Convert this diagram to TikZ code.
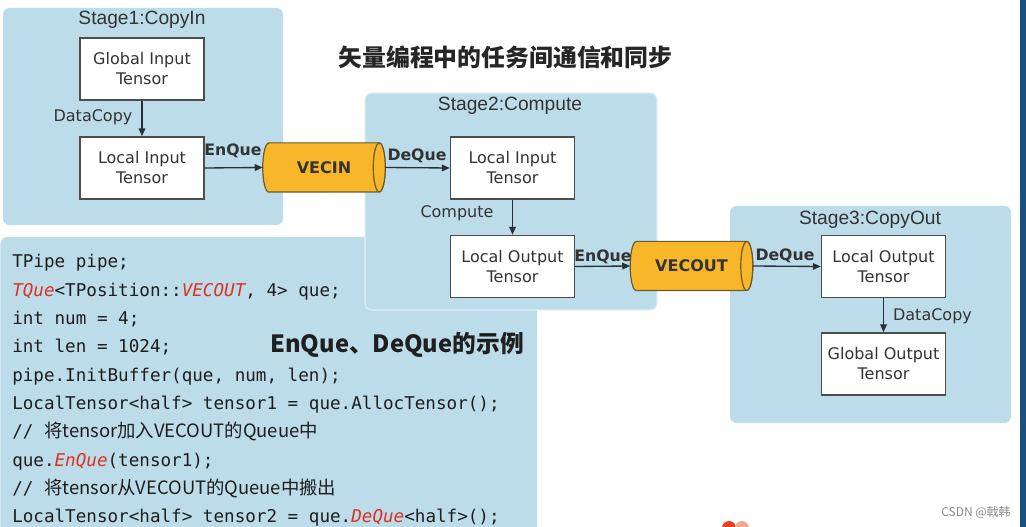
\documentclass[tikz,border=0pt]{standalone}
\usepackage{fontspec}
\setmainfont{DejaVu Sans}
\setmonofont{DejaVu Sans Mono}
\newfontfamily\cjk{Noto Sans CJK SC}
\newfontfamily\arialf{Liberation Sans}
\usetikzlibrary{arrows.meta,calc}
\definecolor{panel}{HTML}{BCDCEA}
\definecolor{boxline}{HTML}{4D4D4D}
\definecolor{txt}{HTML}{333333}
\definecolor{arrowc}{HTML}{263238}
\definecolor{cylfill}{HTML}{F8B62A}
\definecolor{cylline}{HTML}{6B5B2E}
\definecolor{codetext}{HTML}{1E1E1E}
\definecolor{codered}{HTML}{E0301E}
\definecolor{barblue}{HTML}{1B4F7E}
\definecolor{wmark}{HTML}{8C8C8C}
\definecolor{logored}{HTML}{E8401C}
\definecolor{logopink}{HTML}{F7A98A}
\tikzset{
  panelbox/.style={fill=panel, rounded corners=5pt},
  stagetitle/.style={font=\arialf\fontsize{14.4}{17}\selectfont, text=txt, inner sep=0pt},
  tensorbox/.style={draw=boxline, line width=1.1pt, fill=white, minimum width=93pt, minimum height=46.5pt,
    align=center, font=\fontsize{12}{15}\selectfont, text=txt, inner sep=0pt},
  cylnode/.style={minimum width=91.5pt, minimum height=36.5pt, inner sep=0pt,
    font=\bfseries\fontsize{12}{14}\selectfont, text=txt},
  cylbody/.style={fill=cylfill, draw=cylline, line width=0.9pt},
  arr/.style={draw=arrowc, line width=1pt, -{Triangle[length=6pt,width=5pt]}},
  qlabel/.style={font=\bfseries\fontsize{11.8}{13}\selectfont, text=txt, inner sep=0pt},
  flabel/.style={font=\fontsize{12}{14}\selectfont, text=txt, inner sep=0pt},
  codeline/.style={anchor=base west, inner sep=0pt, font=\ttfamily\fontsize{13.2}{15}\selectfont, text=codetext},
}
\newcommand{\rit}[1]{\textcolor{codered}{\itshape #1}}
\begin{document}
\begin{tikzpicture}[x=0.75pt,y=-0.75pt]
\clip (0,0) rectangle (1026,527);
\fill[white] (0,0) rectangle (1026,527);

% panels
\path[panelbox] (0.5,237) rectangle (537,540);
\path[panelbox] (3,8) rectangle (283,225);
\path[panelbox, draw=white!55!panel, line width=0.8pt] (365,93) rectangle (657,310);
\path[panelbox] (730,206) rectangle (1011,423);

% stage titles
\node[stagetitle] (t1) at (142,20) {Stage1:CopyIn};
\node[stagetitle] (t2) at (510,106) {Stage2:Compute};
\node[stagetitle] (t3) at (870,220) {Stage3:CopyOut};

% tensor boxes
\node[tensorbox] (g1) at (142,69) {Global Input\\Tensor};
\node[tensorbox] (l1) at (142,168) {Local Input\\Tensor};
\node[tensorbox] (l2in) at (512.5,168) {Local Input\\Tensor};
\node[tensorbox] (l2out) at (512.5,266.5) {Local Output\\Tensor};
\node[tensorbox] (l3out) at (883.5,266.5) {Local Output\\Tensor};
\node[tensorbox] (g3) at (883.5,364) {Global Output\\Tensor};

% cylinders
\node[cylnode] (vecin) at (324,167.5) {};
\path[cylbody] ($(vecin.north west)+(6,0)$) -- ($(vecin.north east)+(-6,0)$)
   arc[start angle=-90,end angle=90,x radius=6,y radius=24.5]
   -- ($(vecin.south west)+(6,0)$)
   arc[start angle=90,end angle=270,x radius=6,y radius=24.5] -- cycle;
\path[cylbody] ($(vecin.east)+(-6,0)$) ellipse[x radius=6,y radius=24.5];
\node[cylnode] at (vecin.center) {VECIN};

\node[cylnode] (vecout) at (691.5,266) {};
\path[cylbody] ($(vecout.north west)+(6,0)$) -- ($(vecout.north east)+(-6,0)$)
   arc[start angle=-90,end angle=90,x radius=6,y radius=24.5]
   -- ($(vecout.south west)+(6,0)$)
   arc[start angle=90,end angle=270,x radius=6,y radius=24.5] -- cycle;
\path[cylbody] ($(vecout.east)+(-6,0)$) ellipse[x radius=6,y radius=24.5];
\node[cylnode] at (vecout.center) {VECOUT};

% connectors
\draw[arr] (g1) -- (l1);
\draw[arr] (l1.east) -- (vecin.west);
\draw[arr] (vecin.east) -- (l2in.west);
\draw[arr] (l2in) -- (l2out);
\draw[arr] (l2out.east) -- (vecout.west);
\draw[arr] (vecout.east) -- (l3out.west);
\draw[arr] (l3out) -- (g3);

% connector labels
\node[flabel] (dc1) at (93,117) {DataCopy};
\node[qlabel] (eq1) at (233,151) {EnQue};
\node[qlabel] (dq1) at (417,156) {DeQue};
\node[flabel] (cp) at (457,213) {Compute};
\node[qlabel] (eq2) at (603,257) {EnQue};
\node[qlabel] (dq2) at (785,256) {DeQue};
\node[flabel] (dc3) at (932.5,316) {DataCopy};

% title
\node[font=\cjk\bfseries\fontsize{17.9}{20}\selectfont, text=black!85, inner sep=0pt] (title) at (505.5,57) {矢量编程中的任务间通信和同步};

% code
\node[codeline] (c1) at (12,268) {TPipe pipe;};
\node[codeline] (c2) at (12,296.3) {\rit{TQue}<TPosition::\rit{VECOUT}, 4> que;};
\node[codeline] (c3) at (12,324.7) {int num = 4;};
\node[codeline] (c4) at (12,353) {int len = 1024;};
\node[codeline] (c5) at (12,381.3) {pipe.InitBuffer(que, num, len);};
\node[codeline] (c6) at (12,409.7) {LocalTensor<half> tensor1 = que.AllocTensor();};
\node[codeline] (c7) at (12,438) {// {\cjk\fontsize{13.8}{16}\selectfont 将tensor加入VECOUT的Queue中}};
\node[codeline] (c8) at (12,466.3) {que.\rit{EnQue}(tensor1);};
\node[codeline] (c9) at (12,494.7) {// {\cjk\fontsize{13.8}{16}\selectfont 将tensor从VECOUT的Queue中搬出}};
\node[codeline] (c10) at (12,523) {LocalTensor<half> tensor2 = que.\rit{DeQue}<half>();};

\node[anchor=base west, inner sep=0pt, font=\cjk\bfseries\fontsize{17.8}{20}\selectfont, text=black!88] (ex) at (270,353) {EnQue、DeQue的示例};

% watermark, logo and bar
\node[anchor=east, inner sep=0pt, font=\cjk\fontsize{9}{10}\selectfont, text=wmark] (wm) at (1011,512) {CSDN @戟韩};
\fill[logored] (729,528) circle[radius=7];
\fill[logopink] (742,528) circle[radius=7];
\fill[barblue] (1020,0) rectangle (1025.5,527);
\end{tikzpicture}
\end{document}
